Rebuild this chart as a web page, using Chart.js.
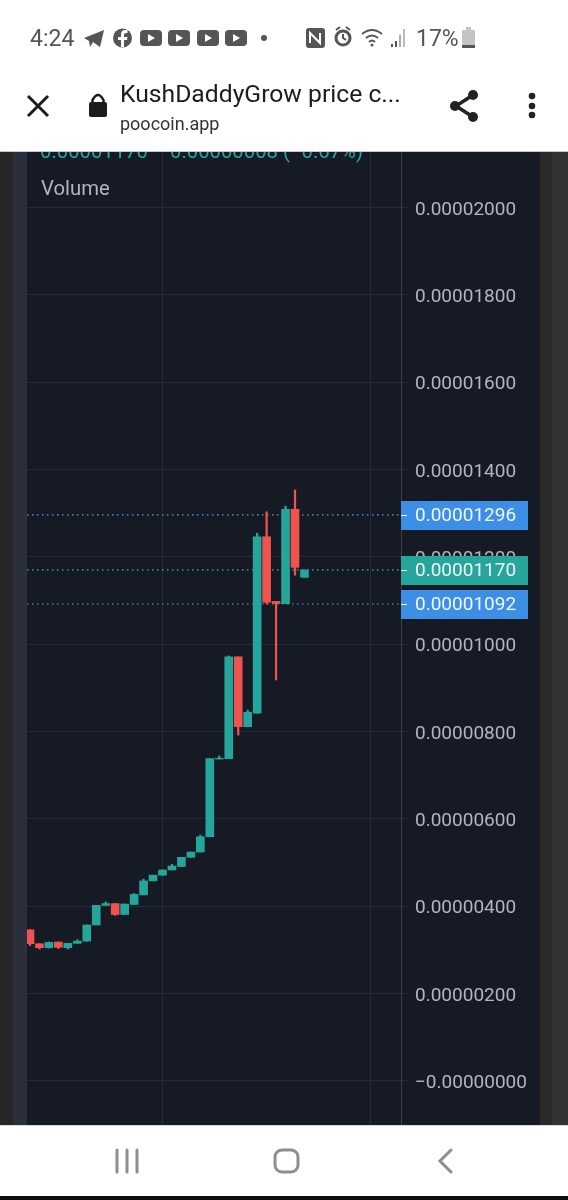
<!DOCTYPE html>
<html><head><meta charset="utf-8">
<script src="https://cdn.jsdelivr.net/npm/chart.js@4"></script>
<style>
html,body{margin:0;padding:0;background:#fff;width:568px;height:1200px;overflow:hidden;font-family:Roboto,sans-serif}
.a{position:absolute}
#stage{position:absolute;left:0;top:0;width:568px;height:1200px;overflow:hidden}
svg{position:absolute;left:0;top:0}
</style></head><body>
<div id="stage">
<div class="a" style="left:0;top:152px;width:13px;height:973px;background:#272727"></div>
<div class="a" style="left:13px;top:152px;width:14px;height:973px;background:#2a2f3b"></div>
<div class="a" style="left:27px;top:152px;width:513px;height:973px;background:#161a25"></div>
<div class="a" style="left:540px;top:152px;width:12px;height:973px;background:#2b2a27"></div>
<div class="a" style="left:552px;top:152px;width:16px;height:973px;background:#333"></div>
<div class="a" style="left:27px;top:152px;width:501px;height:973px"><canvas id="c" width="501" height="973" style="display:block;width:501px;height:973px"></canvas></div>
<div class="a" style="left:40px;top:139px;color:#26a69a;font-size:20.3px;line-height:24px;white-space:pre">0.00001170</div>
<div class="a" style="left:170px;top:139px;color:#26a69a;font-size:20.3px;line-height:24px;white-space:pre">0.00000008 (−0.67%)</div>
<div class="a" style="left:41px;top:175px;color:#b2b5be;font-size:20.3px;line-height:26px">Volume</div>
<div class="a" style="left:0;top:0;width:568px;height:151px;background:#fff;border-bottom:1px solid #c9c9c9"></div>
<div class="a" style="left:30px;top:25px;color:#555;font-size:23px;line-height:28px">4:24</div>
<div class="a" style="left:416px;top:25px;color:#555;font-size:23px;line-height:28px">17%</div>
<div class="a" style="left:120px;top:78px;color:#1c1c1c;font-size:24.7px;line-height:32px;white-space:nowrap">KushDaddyGrow price c...</div>
<div class="a" style="left:120px;top:112px;color:#333;font-size:18px;line-height:24px">poocoin.app</div>
<div class="a" style="left:0;top:1125px;width:568px;height:71px;background:#fff;border-top:1px solid #d5dade;box-sizing:border-box"></div>
<div class="a" style="left:0;top:1196px;width:568px;height:4px;background:#0c0e13"></div>
<svg width="568" height="1200" viewBox="0 0 568 1200">
<g transform="translate(0,-3)">
<g fill="#555">
<path d="M84 41 L104 33 L100 50 L93 45 L90 50 L89 44 Z"/>
<circle cx="122.500" cy="41" r="9.500"/>
<rect x="140" y="33" width="22" height="16" rx="4"/><rect x="168" y="33" width="22" height="16" rx="4"/><rect x="197" y="33" width="22" height="16" rx="4"/><rect x="225" y="33" width="22" height="16" rx="4"/>
<circle cx="264" cy="41" r="3"/>
<rect x="306" y="31" width="19" height="20" rx="3"/>
<circle cx="343" cy="41" r="8.500"/>
<path d="M336 33 L340 30 M350 33 L346 30" stroke="#555" stroke-width="2"/>
<rect x="391" y="47" width="2" height="3"/><rect x="395" y="44" width="2" height="6"/><rect x="399" y="38" width="2" height="12" fill="#aaa"/><rect x="403" y="32" width="2" height="18" fill="#bbb"/>
<rect x="462" y="33" width="13" height="18" rx="1" fill="#c4c4c4"/><rect x="466" y="30" width="5" height="3" fill="#c4c4c4"/><rect x="462" y="48" width="13" height="3"/>
</g>
<g fill="#fff"><path d="M148 37 L148 45 L155 41 Z M176 37 L176 45 L183 41 Z M205 37 L205 45 L212 41 Z M233 37 L233 45 L240 41 Z"/>
<path d="M124 50 L124 43 L127 43 L127.500 40 L124 40 L124 38 Q124 36 126 36 L127.500 36 L127.500 33 L125 33 Q121 33 121 38 L121 40 L118 40 L118 43 L121 43 L121 50 Z"/>
<path d="M310 46 L310 36 L320 46 L320 36" fill="none" stroke="#fff" stroke-width="2"/>
<circle cx="343" cy="41" r="5.500"/></g>
<path d="M343 37 L343 41 L346 43" stroke="#555" stroke-width="2" fill="none"/>
<path d="M362 37 Q372 29 382 37 M366 41 Q372 36 378 41 M369 45 Q372 42 375 45" stroke="#555" stroke-width="2" fill="none"/><circle cx="372" cy="48" r="1.500" fill="#555"/>
</g>
<path d="M28 96 L48 116 M48 96 L28 116" stroke="#1c1c1c" stroke-width="3"/>
<rect x="89" y="102" width="18" height="15" rx="2" fill="#1c1c1c"/><path d="M92.500 103 L92.500 100 Q98 90 103.500 100 L103.500 103" fill="none" stroke="#1c1c1c" stroke-width="2.500"/>
<path d="M473 95 L456 106 L473 117" fill="none" stroke="#222" stroke-width="3.500"/>
<circle cx="473" cy="95" r="5" fill="#222"/><circle cx="455" cy="106" r="5" fill="#222"/><circle cx="473" cy="117" r="5" fill="#222"/>
<circle cx="532" cy="96" r="3.300" fill="#222"/><circle cx="532" cy="106" r="3.300" fill="#222"/><circle cx="532" cy="115" r="3.300" fill="#222"/>
<path d="M117 1150 V1172 M127 1150 V1172 M137 1150 V1172" stroke="#8e8e8e" stroke-width="3" stroke-linecap="round"/>
<rect x="275" y="1150" width="23" height="22" rx="7" fill="none" stroke="#8e8e8e" stroke-width="3"/>
<path d="M451 1150 L440 1161 L451 1172" fill="none" stroke="#8e8e8e" stroke-width="3" stroke-linecap="round"/>
</svg>
</div>
<script>
const opens  = [0.00000346,0.00000314,0.00000305,0.00000318,0.00000305,0.00000315,0.00000320,0.00000357,0.00000402,0.00000406,0.00000381,0.00000404,0.00000426,0.00000458,0.00000471,0.00000483,0.00000491,0.00000512,0.00000524,0.00000559,0.00000737,0.00000738,0.00000971,0.00000811,0.00000842,0.00001246,0.00001098,0.00001093,0.00001309,0.00001153];
const closes = [0.00000314,0.00000305,0.00000317,0.00000306,0.00000315,0.00000320,0.00000357,0.00000402,0.00000406,0.00000381,0.00000405,0.00000427,0.00000458,0.00000471,0.00000483,0.00000492,0.00000512,0.00000524,0.00000559,0.00000738,0.00000739,0.00000971,0.00000811,0.00000844,0.00001246,0.00001096,0.00001093,0.00001309,0.00001176,0.00001170];
const highs  = [0.00000346,0.00000314,0.00000318,0.00000318,0.00000315,0.00000323,0.00000357,0.00000402,0.00000410,0.00000406,0.00000405,0.00000429,0.00000462,0.00000471,0.00000483,0.00000496,0.00000512,0.00000524,0.00000563,0.00000738,0.00000744,0.00000973,0.00000971,0.00000849,0.00001254,0.00001303,0.00001098,0.00001316,0.00001353,0.00001170];
const lows   = [0.00000310,0.00000302,0.00000304,0.00000303,0.00000302,0.00000315,0.00000320,0.00000357,0.00000402,0.00000379,0.00000381,0.00000404,0.00000426,0.00000458,0.00000471,0.00000483,0.00000491,0.00000512,0.00000524,0.00000559,0.00000737,0.00000738,0.00000792,0.00000811,0.00000842,0.00001092,0.00000918,0.00001093,0.00001158,0.00001153];
const yTicks = [0,0.000002,0.000004,0.000006,0.000008,0.00001,0.000012,0.000014,0.000016,0.000018,0.00002];
const xGridTicks = [14,36];
const priceMarks = [0.00001296,0.00001170,0.00001092];
const markColors = ['#3d8fe6','#26a69a','#3d8fe6'];
const markLineColors = ['#5a9fe8','#3ab5a8','#5a9fe8'];
const UP='#26a69a', DOWN='#ef5350';

const xMin=-0.317, xMax=39.2, yMin=-0.00000101, yMax=0.00002127;
const candleColors = opens.map((o,i)=>closes[i]>=o?UP:DOWN);

const marksPlugin={id:'marks',afterDraw(ch){
  const {ctx,scales:{y}}=ch;
  ctx.save();
  priceMarks.forEach((v,i)=>{
    const py=Math.round(y.getPixelForValue(v));
    ctx.fillStyle=markColors[i];
    ctx.fillRect(y.left,py-14,127,29);
    ctx.fillStyle='#fff';
    ctx.fillRect(y.left,py,6,1);
    ctx.fillStyle='#f2f6fa';
    ctx.font='19px Roboto';ctx.textBaseline='middle';ctx.textAlign='left';
    ctx.fillText(v.toFixed(8),388,py+1);
  });
  ctx.restore();
}};

new Chart(document.getElementById('c'),{
  type:'bar',
  data:{datasets:[
    ...priceMarks.map((v,i)=>({type:'line',order:5,data:[{x:xMin,y:v},{x:xMax,y:v}],borderColor:markLineColors[i],borderWidth:1.2,borderDash:[1.5,3.5],pointRadius:0,fill:false})),
    {type:'bar',order:2,grouped:false,barThickness:1.6,data:opens.map((_,i)=>({x:i,y:[lows[i],highs[i]]})),backgroundColor:candleColors,borderWidth:0},
    {type:'bar',order:1,grouped:false,barThickness:8,data:opens.map((o,i)=>({x:i,y:[o,closes[i]]})),backgroundColor:candleColors,borderWidth:0}
  ]},
  options:{
    responsive:false,animation:false,
    layout:{padding:0},
    plugins:{legend:{display:false},tooltip:{enabled:false}},
    scales:{
      x:{type:'linear',offset:false,min:xMin,max:xMax,display:true,
        afterBuildTicks(s){s.ticks=xGridTicks.map(v=>({value:v}));},
        afterFit(s){s.height=0;s.paddingLeft=0;s.paddingRight=0;},
        ticks:{display:false},
        grid:{color:'#262a36',lineWidth:1,drawTicks:false,offset:false},border:{display:false}},
      y:{type:'linear',position:'right',min:yMin,max:yMax,
        afterBuildTicks(s){s.ticks=yTicks.map(v=>({value:v}));},
        afterFit(s){s.width=127;s.paddingTop=0;s.paddingBottom=0;},
        ticks:{color:'#b2b5be',padding:7,labelOffset:2.5,font:{family:'Roboto',size:19},
          callback:v=>(v===0?'−':'')+Number(v).toFixed(8)},
        grid:{color:'#262a36',lineWidth:1,tickLength:7},
        border:{display:true,color:'#3b3f4b',width:1}}
    }
  },
  plugins:[marksPlugin]
});
</script>
</body></html>
